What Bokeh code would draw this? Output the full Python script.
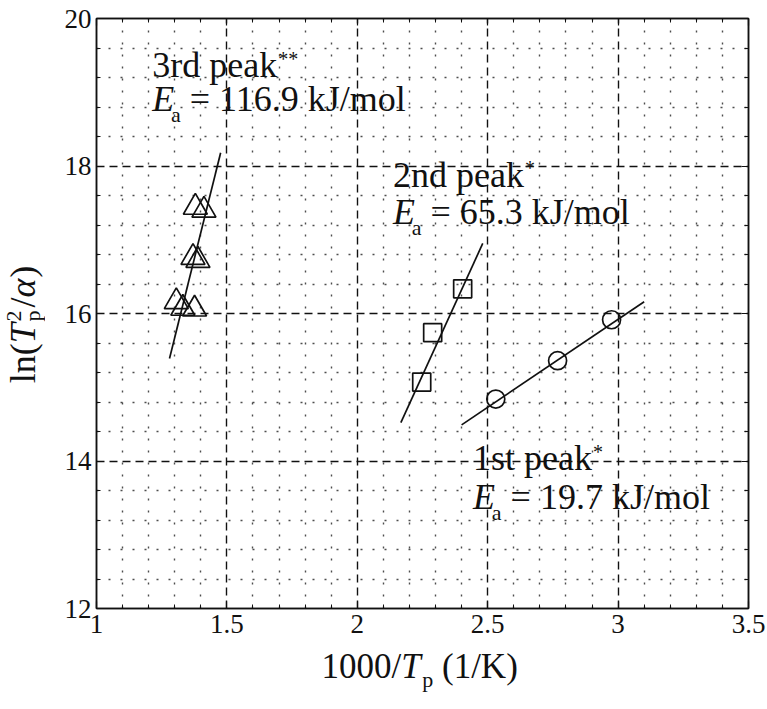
import math
from bokeh.plotting import figure
from bokeh.layouts import row, column
from bokeh.models import Label, LinearAxis, FixedTicker, Range1d
from bokeh.embed import file_html
from bokeh.resources import INLINE

# ---------------- data ----------------
x_ticks = [1.0, 1.5, 2.0, 2.5, 3.0, 3.5]
x_tick_labels = ["1", "1.5", "2", "2.5", "3", "3.5"]
y_ticks = [12, 14, 16, 18, 20]
y_tick_labels = ["12", "14", "16", "18", "20"]

# 1st peak (circles)
p1_x = [2.531, 2.768, 2.975]
p1_y = [14.84, 15.36, 15.915]
fit1_x = [2.40, 3.10]
fit1_y = [14.49, 16.16]

# 2nd peak (squares)
p2_x = [2.247, 2.289, 2.404]
p2_y = [15.07, 15.74, 16.335]
fit2_x = [2.167, 2.481]
fit2_y = [14.52, 16.95]

# 3rd peak (triangles)
p3_x = [1.379, 1.412, 1.370, 1.389, 1.306, 1.331, 1.376]
p3_y = [17.44, 17.40, 16.76, 16.72, 16.16, 16.07, 16.06]
fit3_x = [1.280, 1.476]
fit3_y = [15.39, 18.18]

peak_titles = ["3rd peak", "2nd peak", "1st peak"]
peak_stars = ["**", "*", "*"]
peak_ea = ["116.9", "65.3", "19.7"]

FONT = "Liberation Serif"
INK = "#111111"

# layout geometry
YLW = 45            # width of the y-label strip
XLH = 61            # height of the x-label strip
PW, PH = 767 - YLW, 709 - XLH
L, R, T = 96 - YLW, 19, 18
B = PH - 608

p = figure(width=PW, height=PH, output_backend="svg", toolbar_location=None,
           x_range=Range1d(1.0, 3.5), y_range=Range1d(12, 20),
           min_border_left=L, min_border_right=R, min_border_top=T, min_border_bottom=B,
           background_fill_color="white", border_fill_color="white",
           outline_line_color=INK, outline_line_width=1.5)

xminor = [round(1.0 + 0.1 * i, 2) for i in range(26) if i % 5 != 0]
yminor = [round(12 + 0.4 * i, 2) for i in range(21) if i % 5 != 0]
xt = FixedTicker(ticks=x_ticks, minor_ticks=xminor)
yt = FixedTicker(ticks=y_ticks, minor_ticks=yminor)

def style_axis(ax):
    ax.axis_line_color = INK
    ax.axis_line_width = 1.5
    ax.major_tick_in = 7
    ax.major_tick_out = 0
    ax.minor_tick_in = 4
    ax.minor_tick_out = 0
    ax.major_tick_line_color = INK
    ax.minor_tick_line_color = INK
    ax.major_tick_line_width = 1.2
    ax.minor_tick_line_width = 1
    ax.major_label_text_font = FONT
    ax.major_label_text_color = INK

p.xaxis.ticker = xt
p.yaxis.ticker = yt
style_axis(p.xaxis[0])
style_axis(p.yaxis[0])
p.xaxis.major_label_overrides = {t: l for t, l in zip(x_ticks, x_tick_labels)}
p.yaxis.major_label_overrides = {t: l for t, l in zip(y_ticks, y_tick_labels)}
p.xaxis.major_label_text_font_size = "27px"
p.yaxis.major_label_text_font_size = "27px"
p.xaxis.major_label_standoff = 6
p.yaxis.major_label_standoff = 5

top = LinearAxis(ticker=FixedTicker(ticks=x_ticks, minor_ticks=xminor))
right = LinearAxis(ticker=FixedTicker(ticks=y_ticks, minor_ticks=yminor))
for ax, tk in ((top, x_ticks), (right, y_ticks)):
    style_axis(ax)
    ax.major_label_overrides = {t: "" for t in tk}
    ax.major_label_text_font_size = "1px"
    ax.major_label_standoff = 0
p.add_layout(top, "above")
p.add_layout(right, "right")

# grids
for g, tk in ((p.xgrid[0], xt), (p.ygrid[0], yt)):
    g.ticker = tk
    g.grid_line_color = INK
    g.grid_line_dash = "8 5"
    g.grid_line_width = 1.4
    g.minor_grid_line_color = "#222222"
    g.minor_grid_line_dash = "2 10"
    g.minor_grid_line_width = 1.4
    g.minor_grid_line_alpha = 0.8

# fits and markers
for fx, fy in ((fit1_x, fit1_y), (fit2_x, fit2_y), (fit3_x, fit3_y)):
    p.line(fx, fy, line_color=INK, line_width=1.7)
p.scatter(p1_x, p1_y, marker="circle", size=18, fill_color=None, line_color=INK, line_width=1.7)
p.scatter(p2_x, p2_y, marker="square", size=18, fill_color=None, line_color=INK, line_width=1.7)
p.scatter(p3_x, p3_y, marker="triangle", size=24, fill_color=None, line_color=INK, line_width=1.7)

# ---------------- rich text helper ----------------
W = {' ': .25, '.': .25, '=': .564, '/': .278, '(': .333, ')': .333, 'k': .5, 'J': .389,
     'm': .778, 'o': .5, 'l': .278, 'r': .333, 'd': .5, 'p': .5, 'e': .444, 'a': .444,
     's': .389, 't': .278, 'n': .5, 'K': .722, '*': .5, 'T': .556, 'E': .611, 'α': .55}
BASEFIX = 0.35   # empirical baseline correction (fraction of font size)

def width(s, fs):
    return sum(W.get(c, 0.5) for c in s) * fs

def rich(fig, x, y, pieces, x0=0.0, y0=0.0, rotated=False):
    adv = 0.0
    for piece in pieces:
        t, fs, st, shift = piece[:4]
        a = piece[4] if len(piece) > 4 else width(t, fs)
        lead = len(t) - len(t.lstrip(" "))
        lw = lead * W[' '] * fs
        t = t.strip(" ")
        s = shift + BASEFIX * fs
        if rotated:
            xo, yo, ang = x0 - s, y0 + adv + lw, math.pi / 2
        else:
            xo, yo, ang = x0 + adv + lw, y0 + s, 0
        fig.add_layout(Label(x=x, y=y, x_offset=xo, y_offset=yo, text=t, angle=ang,
                             text_font=FONT, text_font_size=f"{fs}px", text_font_style=st,
                             text_color=INK, text_baseline="alphabetic", text_align="left"))
        adv += a

def total(pieces):
    return sum(pc[4] if len(pc) > 4 else width(pc[0], pc[1]) for pc in pieces)

FS = 36
SUB = 22
anchors = [(1.214, 19.20, 18.74), (2.137, 17.71, 17.21), (2.444, 13.87, 13.345)]
for title, star, ea, (ax_, y1, y2) in zip(peak_titles, peak_stars, peak_ea, anchors):
    rich(p, ax_, y1, [(title, FS, "normal", 0, width(title, FS) + 1), (star, 20, "normal", 12)])
    rich(p, ax_, y2, [("E", FS, "italic", 0, 0.52 * FS), ("a", SUB, "normal", -11),
                      (f" = {ea} kJ/mol", FS, "normal", 0)])

# ---------------- axis-title strips ----------------
def strip(w, h):
    f = figure(width=w, height=h, output_backend="svg", toolbar_location=None,
               title=None, x_range=Range1d(0, w), y_range=Range1d(0, h),
               x_axis_type=None, y_axis_type=None,
               min_border=0, min_border_left=0, min_border_right=0,
               min_border_top=0, min_border_bottom=0, outline_line_color=None,
               background_fill_color="white", border_fill_color="white")
    f.xgrid.visible = False
    f.ygrid.visible = False
    return f

# x axis title: baseline at canvas y=678, centred near canvas x=420
xs = strip(PW, XLH)
XL = 35
xl = [("1000/", XL, "normal", 0), ("T", XL, "italic", 0, 0.6 * XL), ("p", 22, "normal", -9),
      (" (1/K)", XL, "normal", 0)]
rich(xs, 420 - YLW - total(xl) / 2, 709 - 678, xl, x0=-25)

# y axis title (rotated): baseline at canvas x=35, centred at canvas y=324
ys = strip(YLW, 709)
YL = 36
yl = [("ln(", YL, "normal", 0), ("T", YL, "italic", 0, 0.6 * YL), ("p", 22, "normal", -5, 0),
      ("2", 22, "normal", 14, 14), ("/", YL, "normal", 0), ("α", YL, "italic", 0),
      (")", YL, "normal", 0)]
rich(ys, 35, 709 - 324 - total(yl) / 2, yl, rotated=True)

layout = row(ys, column(p, xs, spacing=0), spacing=0)

open("out.html", "w").write(file_html(layout, INLINE))
